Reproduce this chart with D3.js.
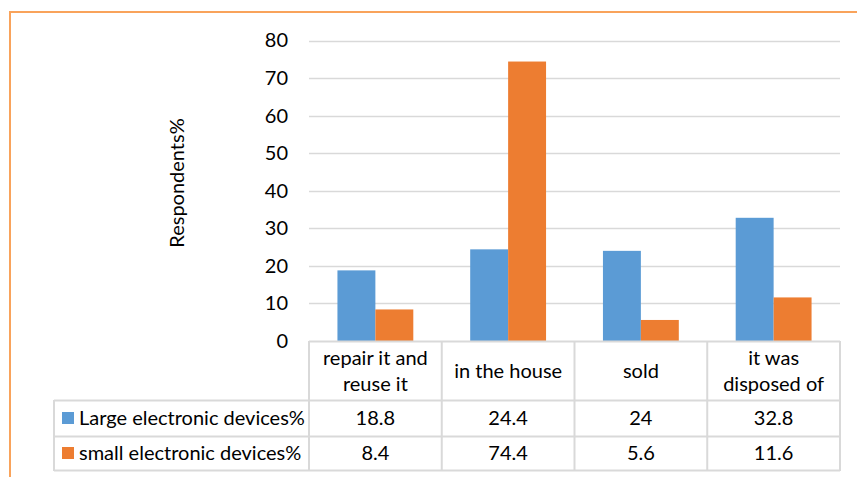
<!DOCTYPE html>
<html>
<head>
<meta charset="utf-8">
<script src="https://cdn.jsdelivr.net/npm/d3@7"></script>
<style>
  html, body { margin: 0; padding: 0; background: #fff; }
  svg { display: block; }
  text { font-family: Lato, "Open Sans", sans-serif; fill: #000; }
</style>
</head>
<body>
<svg id="chart" width="857" height="477"></svg>
<script>
// Where respondents' old devices ended up
const categories = [["repair it and", "reuse it"], ["in the house"], ["sold"], ["it was", "disposed of"]];
const seriesNames = ["Large electronic devices%", "small electronic devices%"];
const largeDevices = [18.8, 24.4, 24, 32.8];
const smallDevices = [8.4, 74.4, 5.6, 11.6];
const yTicks = [0, 10, 20, 30, 40, 50, 60, 70, 80];
const colors = ["#5B9BD5", "#ED7D31"];

const series = [largeDevices, smallDevices];
const svg = d3.select("#chart");
const fontSize = 20;

// outer frame (orange, left and top edges)
svg.append("path")
  .attr("d", "M10,477 V12 H857")
  .attr("fill", "none")
  .attr("stroke", "#F9A35B")
  .attr("stroke-width", 2);

const plot = { left: 309, right: 840, top: 40.5, bottom: 341 };
const catIdx = d3.range(categories.length);

const x = d3.scaleBand().domain(catIdx).range([plot.left, plot.right]).padding(0);
const xSub = d3.scaleBand().domain([0, 1]).range([0, x.bandwidth()])
  .paddingInner(0).paddingOuter(0.75);
const y = d3.scaleLinear().domain([0, 80]).range([plot.bottom, plot.top]);

// gridlines
svg.append("g")
  .selectAll("line")
  .data(yTicks.filter(t => t > 0))
  .join("line")
  .attr("x1", plot.left).attr("x2", plot.right)
  .attr("y1", d => Math.round(y(d)) + 0.5).attr("y2", d => Math.round(y(d)) + 0.5)
  .attr("stroke", "#D9D9D9").attr("stroke-width", 1.3);

// y axis labels
const yAxis = d3.axisLeft(y).tickValues(yTicks).tickSize(0).tickPadding(21);
const yg = svg.append("g").attr("transform", `translate(${plot.left},0)`).call(yAxis);
yg.select(".domain").remove();
yg.selectAll("text")
  .style("font-family", "Lato, 'Open Sans', sans-serif")
  .attr("font-size", fontSize).attr("fill", "#000");

// axis title
svg.append("text")
  .attr("transform", `translate(184,${183}) rotate(-90)`)
  .attr("text-anchor", "middle")
  .attr("font-size", fontSize)
  .text("Respondents%");

// bars
series.forEach((vals, si) => {
  svg.append("g")
    .selectAll("rect")
    .data(vals)
    .join("rect")
    .attr("x", (d, i) => x(i) + xSub(si))
    .attr("width", xSub.bandwidth())
    .attr("y", d => y(d))
    .attr("height", d => y(0) - y(d))
    .attr("fill", colors[si]);
});

// data table below the axis
const rowTop = [341, 400, 436, 470];
const legendLeft = 54;
const border = "#D9D9D9";
const tg = svg.append("g");

// horizontal rules
tg.append("line").attr("x1", plot.left).attr("x2", plot.right)
  .attr("y1", rowTop[0] + 0.5).attr("y2", rowTop[0] + 0.5)
  .attr("stroke", border).attr("stroke-width", 2);
[rowTop[1], rowTop[2], rowTop[3]].forEach(ry => {
  tg.append("line").attr("x1", legendLeft).attr("x2", plot.right)
    .attr("y1", ry + 0.5).attr("y2", ry + 0.5)
    .attr("stroke", border).attr("stroke-width", 2);
});
// vertical rules
catIdx.concat([categories.length]).forEach(i => {
  const vx = i < categories.length ? x(i) : plot.right;
  tg.append("line").attr("x1", vx).attr("x2", vx)
    .attr("y1", rowTop[0]).attr("y2", rowTop[3] + 1)
    .attr("stroke", border).attr("stroke-width", 2);
});
tg.append("line").attr("x1", legendLeft).attr("x2", legendLeft)
  .attr("y1", rowTop[1]).attr("y2", rowTop[3] + 1)
  .attr("stroke", border).attr("stroke-width", 2);

// category header cells
categories.forEach((lines, i) => {
  const cx = x(i) + x.bandwidth() / 2;
  const midY = (rowTop[0] + rowTop[1]) / 2;
  const lh = 26;
  lines.forEach((ln, k) => {
    tg.append("text")
      .attr("x", cx)
      .attr("y", midY + (k - (lines.length - 1) / 2) * lh)
      .attr("dy", "0.35em")
      .attr("text-anchor", "middle")
      .attr("font-size", fontSize)
      .text(ln);
  });
});

// series rows: legend key, name, values
series.forEach((vals, si) => {
  const cy = (rowTop[si + 1] + rowTop[si + 2]) / 2;
  tg.append("rect")
    .attr("x", 62).attr("y", cy - 6).attr("width", 12).attr("height", 12)
    .attr("fill", colors[si]);
  tg.append("text")
    .attr("x", 79).attr("y", cy).attr("dy", "0.35em")
    .attr("font-size", fontSize)
    .text(seriesNames[si]);
  vals.forEach((v, i) => {
    tg.append("text")
      .attr("x", x(i) + x.bandwidth() / 2).attr("y", cy).attr("dy", "0.35em")
      .attr("text-anchor", "middle")
      .attr("font-size", fontSize)
      .text(v);
  });
});
</script>
</body>
</html>
